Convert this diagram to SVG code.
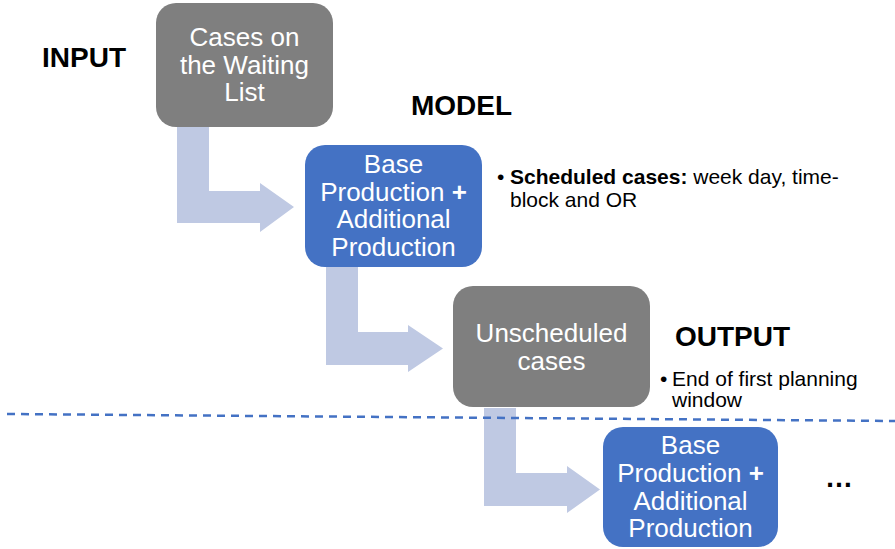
<svg xmlns="http://www.w3.org/2000/svg" width="895" height="549" viewBox="0 0 895 549">
<style>
.gray{fill:#7F7F7F}
.blue{fill:#4472C4}
.arrow{fill:#BFC9E3}
.bt{font-family:"Liberation Sans",Arial,sans-serif;font-size:26px;fill:#FFFFFF;text-anchor:middle}
.lab{font-family:"Liberation Sans",Arial,sans-serif;font-size:28px;font-weight:bold;fill:#000000}
.note{font-family:"Liberation Sans",Arial,sans-serif;font-size:21px;fill:#000000}
.b{font-weight:bold}
</style>
<rect width="895" height="549" fill="#FFFFFF"/>
<g id="connectors">
  <path class="arrow" d="M177,127 H209 V191 H260 V183 L294,207 L260,232 V223 H177 Z"/>
  <path class="arrow" d="M326,267 H358 V332 H408 V325 L443,348.5 L408,372 V365 H326 Z"/>
  <path class="arrow" d="M484,408 H516 V473 H567 V466 L600,489.5 L567,513 V506 H484 Z"/>
</g>
<g id="divider">
  <line x1="7" y1="414" x2="895" y2="421" stroke="#4472C4" stroke-width="2.5" stroke-dasharray="8,6"/>
</g>
<g id="input-label"><text class="lab" x="42" y="67">INPUT</text></g>
<g id="model-label"><text class="lab" x="411" y="115">MODEL</text></g>
<g id="output-label"><text class="lab" x="675" y="346">OUTPUT</text></g>
<g id="node-waiting-list">
  <rect class="gray" x="156" y="3" width="177" height="124" rx="20"/>
  <text class="bt" x="244.5" y="46">Cases on</text>
  <text class="bt" x="244.5" y="73.5">the Waiting</text>
  <text class="bt" x="244.5" y="101">List</text>
</g>
<g id="node-production-1">
  <rect class="blue" x="305" y="145" width="177" height="122" rx="20"/>
  <text class="bt" x="393.5" y="172.5">Base</text>
  <text class="bt" x="393.5" y="200.5">Production <tspan class="b">+</tspan></text>
  <text class="bt" x="393.5" y="228">Additional</text>
  <text class="bt" x="393.5" y="256">Production</text>
</g>
<g id="note-scheduled">
  <text class="note" x="497" y="184">•</text>
  <text class="note" x="510" y="184"><tspan class="b">Scheduled cases:</tspan> week day, time-</text>
  <text class="note" x="510" y="207">block and OR</text>
</g>
<g id="node-unscheduled">
  <rect class="gray" x="453" y="286" width="197" height="121" rx="20"/>
  <text class="bt" x="551.5" y="342">Unscheduled</text>
  <text class="bt" x="551.5" y="369.5">cases</text>
</g>
<g id="note-output">
  <text class="note" x="660" y="386">•</text>
  <text class="note" x="672" y="386">End of first planning</text>
  <text class="note" x="672" y="407">window</text>
</g>
<g id="node-production-2">
  <rect class="blue" x="603" y="427" width="175" height="120" rx="20"/>
  <text class="bt" x="690.5" y="454">Base</text>
  <text class="bt" x="690.5" y="481.5">Production <tspan class="b">+</tspan></text>
  <text class="bt" x="690.5" y="509.5">Additional</text>
  <text class="bt" x="690.5" y="537">Production</text>
</g>
<g id="ellipsis"><text class="lab" x="825" y="487" font-size="25">…</text></g>
</svg>
